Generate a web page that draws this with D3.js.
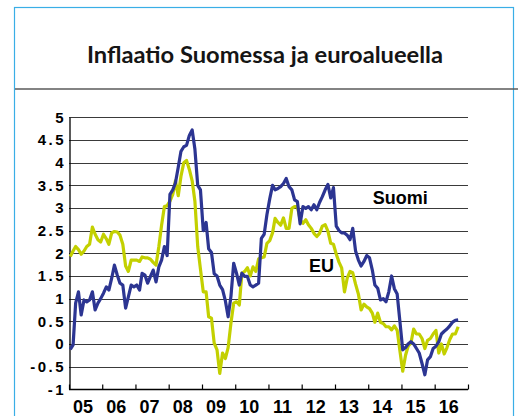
<!DOCTYPE html>
<html>
<head>
<meta charset="utf-8">
<script src="https://cdn.jsdelivr.net/npm/d3@7"></script>
<style>
    body { margin: 0; background: #fff; }
    svg { display: block; }
    .Title { font-family: Lato, "Open Sans", sans-serif; font-weight: 700; font-size: 23.7px; fill: #151515; }
    .TickLabel { font-family: "Liberation Sans", Arial, sans-serif; font-weight: bold; fill: #000; }
    .SeriesLabel { font-family: "Liberation Sans", Arial, sans-serif; font-weight: bold; font-size: 18px; fill: #000; }
</style>
</head>
<body>
<div id="ChartWrapper"></div>
<script>
// Monthly inflation (%), Jan 2005 .. Sep 2016
const suomi = [
    -0.12, -0.02, 0.9, 1.15, 0.64, 0.97, 0.93, 0.97, 1.15, 0.75, 0.9, 1.0,
    1.12, 1.26, 1.19, 1.45, 1.74, 1.52, 1.34, 1.3, 0.79, 1.04, 1.3, 1.26,
    1.3, 1.19, 1.56, 1.52, 1.34, 1.49, 1.63, 1.37, 1.7, 1.85, 2.15, 1.95,
    3.3, 3.4, 3.55, 3.9, 4.25, 4.35, 4.38, 4.6, 4.72, 4.3, 3.5, 3.4,
    2.5, 2.68, 2.1, 2.02, 1.55, 1.5, 1.3, 1.2, 0.95, 0.6, 1.05, 1.78,
    1.56, 1.3, 1.56, 1.49, 1.49, 1.3, 1.26, 1.3, 1.34, 2.33, 2.42, 2.85,
    3.2, 3.5, 3.4, 3.43, 3.47, 3.54, 3.65, 3.47, 3.4, 3.18, 3.14, 2.65,
    3.03, 2.99, 3.03, 2.96, 3.07, 2.96, 3.12, 3.25, 3.4, 3.52, 3.22, 3.45,
    2.6, 2.5, 2.45, 2.45, 2.4, 2.3, 2.55, 2.05, 1.85, 1.72, 1.82, 1.95,
    1.9, 1.63, 1.3, 1.23, 0.97, 1.0, 0.93, 1.15, 1.5, 1.22, 1.1, 0.5,
    -0.13, -0.08, 0.0, 0.05, 0.0, -0.1, -0.2, -0.43, -0.68, -0.35, -0.28, -0.1,
    -0.05, 0.05, 0.22, 0.28, 0.33, 0.4, 0.48, 0.52, 0.53
];
const eu = [
    1.93, 2.05, 2.15, 2.08, 1.98, 2.05, 2.15, 2.2, 2.58, 2.42, 2.3, 2.25,
    2.42, 2.32, 2.2, 2.45, 2.48, 2.47, 2.4, 2.2, 1.72, 1.6, 1.85, 1.85,
    1.85, 1.82, 1.92, 1.9, 1.9, 1.87, 1.8, 1.74, 2.15, 2.62, 3.03, 3.05,
    3.15, 3.3, 3.6, 3.27, 3.7, 4.0, 4.05, 3.85, 3.6, 3.15, 2.15, 1.65,
    1.15, 1.15, 0.6, 0.57, 0.02, -0.13, -0.65, -0.2, -0.32, -0.08, 0.46, 0.9,
    0.93, 0.86, 1.56, 1.6, 1.68, 1.5, 1.7, 1.6, 1.88, 1.9, 1.92, 2.22,
    2.28, 2.45, 2.77, 2.68, 2.62, 2.78, 2.55, 2.55, 2.99, 3.03, 3.03, 2.74,
    2.66, 2.74, 2.63, 2.55, 2.44, 2.37, 2.44, 2.6, 2.63, 2.49, 2.22, 2.2,
    1.98, 1.8, 1.68, 1.15, 1.45, 1.6, 1.57, 1.32, 1.1, 0.75, 0.88, 0.82,
    0.78, 0.68, 0.48, 0.68, 0.48, 0.45, 0.38, 0.38, 0.31, 0.4, 0.3, -0.15,
    -0.6, -0.25, -0.05, 0.02, 0.33, 0.22, 0.22, 0.12, -0.1, 0.08, 0.12, 0.22,
    0.3, -0.2, 0.0, -0.22, -0.08, 0.1, 0.22, 0.22, 0.38
];
const yearLabels = ["05", "06", "07", "08", "09", "10", "11", "12", "13", "14", "15", "16"];
const yTicks = [-1, -0.5, 0, 0.5, 1, 1.5, 2, 2.5, 3, 3.5, 4, 4.5, 5];

const Width = 522;
const Height = 416;
const Plot = {left: 69, right: 468, top: 117.3, bottom: 389.3};

const Canvas = d3.select("#ChartWrapper").append("svg")
    .attr("width", Width).attr("height", Height);

// Frame and title
Canvas.append("rect")
    .attr("x", 14.5).attr("y", 7.5).attr("width", 499).attr("height", 430)
    .attr("fill", "none").attr("stroke", "#3aaee6").attr("stroke-width", 1.2);
Canvas.append("line")
    .attr("x1", 15).attr("x2", 518).attr("y1", 89).attr("y2", 89)
    .attr("stroke", "#5a5a5a").attr("stroke-width", 1.5);
Canvas.append("text").attr("class", "Title")
    .attr("x", 265).attr("y", 63).attr("text-anchor", "middle")
    .text("Inflaatio Suomessa ja euroalueella");

const ScaleX = d3.scaleTime()
    .domain([new Date(2005, 0, 1), new Date(2017, 0, 1)])
    .range([Plot.left, Plot.right]);
const ScaleY = d3.scaleLinear().domain([-1, 5]).range([Plot.bottom, Plot.top]);

// Gridlines
Canvas.append("g").selectAll("line")
    .data(yTicks.filter(v => v > -1))
    .join("line")
    .attr("x1", Plot.left).attr("x2", Plot.right)
    .attr("y1", v => Math.round(ScaleY(v)) + 0.5)
    .attr("y2", v => Math.round(ScaleY(v)) + 0.5)
    .attr("stroke", "#3a3a3a").attr("stroke-width", 1);

// Axes
const yearDates = yearLabels.map((_, i) => new Date(2005 + i, 0, 1));
const AxisX = d3.axisBottom(ScaleX)
    .tickValues(yearDates.concat([new Date(2017, 0, 1)]))
    .tickSize(-5).tickFormat("");
const GX = Canvas.append("g")
    .attr("transform", `translate(0, ${Math.round(Plot.bottom) + 0.5})`)
    .call(AxisX);
GX.select(".domain").attr("stroke", "#000").attr("stroke-width", 1.3)
    .attr("d", `M${Plot.left},0H${Plot.right}`);
GX.selectAll(".tick line").attr("stroke", "#000").attr("stroke-width", 1.2);

Canvas.append("g").selectAll("text")
    .data(yearLabels)
    .join("text").attr("class", "TickLabel")
    .attr("font-size", 18)
    .attr("text-anchor", "middle")
    .attr("x", (d, i) => (ScaleX(yearDates[i]) + ScaleX(new Date(2006 + i, 0, 1))) / 2 - 2.5)
    .attr("y", 413)
    .text(d => d);

const AxisY = d3.axisLeft(ScaleY).tickValues(yTicks).tickSize(0).tickPadding(6)
    .tickFormat(d => String(d));
const GY = Canvas.append("g")
    .attr("transform", `translate(${Plot.left + 0.5}, 0)`)
    .call(AxisY);
GY.select(".domain").attr("stroke", "#000").attr("stroke-width", 1.3);
GY.selectAll(".tick text").attr("class", "TickLabel")
    .attr("font-size", 15).attr("font-family", null)
    .attr("letter-spacing", "2.5px").attr("dx", "2.5px");

// Series lines
const monthDate = i => new Date(2005, i, 15);
const Line = d3.line()
    .x((d, i) => ScaleX(monthDate(i)))
    .y(d => ScaleY(d));

Canvas.append("path")
    .attr("d", Line(eu))
    .attr("fill", "none").attr("stroke", "#c3d000")
    .attr("stroke-width", 3.2).attr("stroke-linejoin", "round");
Canvas.append("path")
    .attr("d", Line(suomi))
    .attr("fill", "none").attr("stroke", "#2c3592")
    .attr("stroke-width", 3.2).attr("stroke-linejoin", "round");

// Series labels
Canvas.append("text").attr("class", "SeriesLabel")
    .attr("x", ScaleX(new Date(2014, 0, 1)) + 4.5).attr("y", ScaleY(3.08))
    .text("Suomi");
Canvas.append("text").attr("class", "SeriesLabel")
    .attr("x", ScaleX(new Date(2012, 3, 1)) - 1).attr("y", ScaleY(1.58))
    .text("EU");
</script>
</body>
</html>
